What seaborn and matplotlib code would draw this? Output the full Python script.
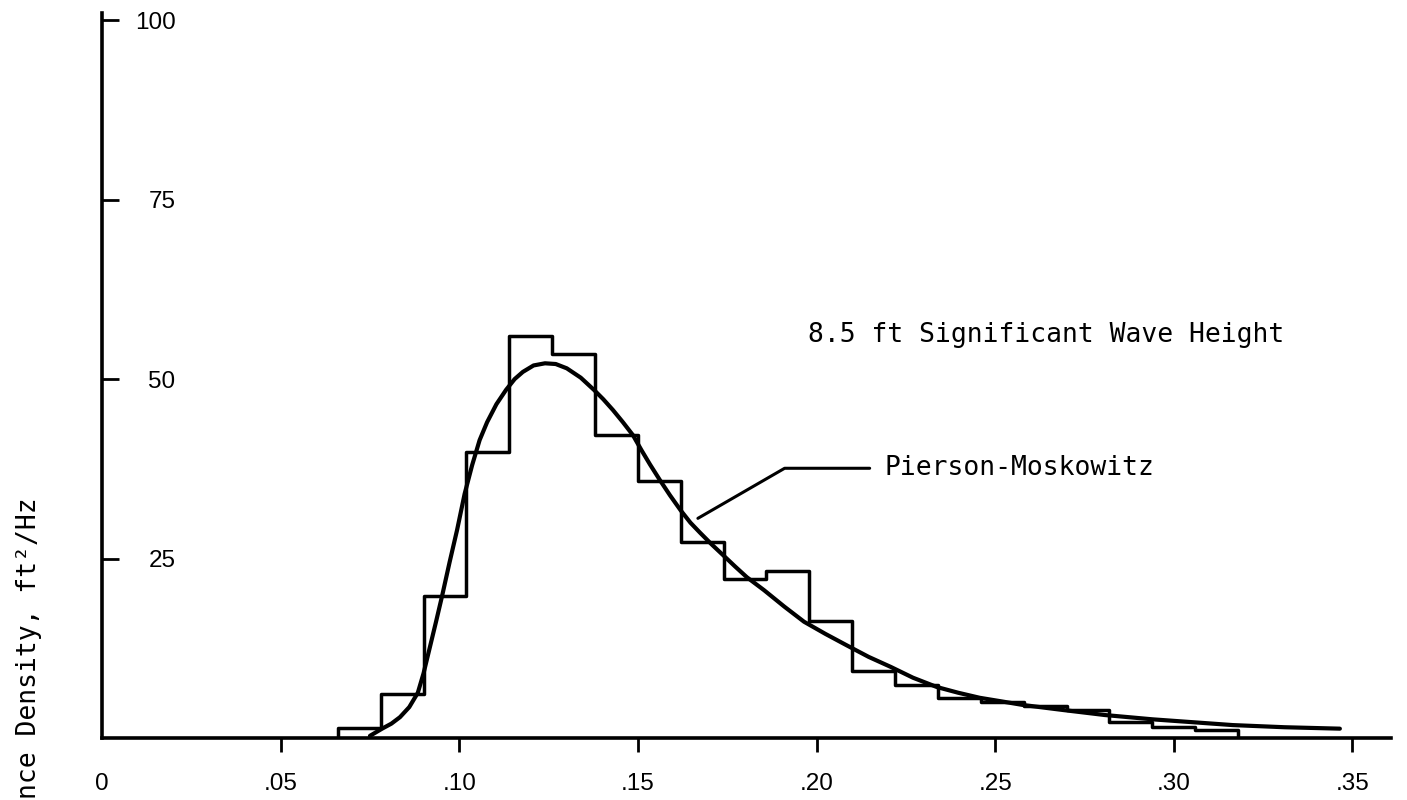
import matplotlib
matplotlib.use("Agg")
import matplotlib.pyplot as plt
import seaborn as sns

# measured spectrum: step heights per frequency band (Hz)
bin_edges = [0.066, 0.078, 0.090, 0.102, 0.114, 0.126, 0.138, 0.150, 0.162,
             0.174, 0.186, 0.198, 0.210, 0.222, 0.234, 0.246, 0.258, 0.270,
             0.282, 0.294, 0.306, 0.318]
bin_heights = [1.4, 6.1, 19.8, 39.8, 56.0, 53.5, 42.2, 35.8, 27.3, 22.1, 23.3,
               16.3, 9.3, 7.4, 5.6, 5.0, 4.5, 3.9, 2.2, 1.5, 1.1]

# Pierson-Moskowitz curve, points
pm_freq = [0.0750, 0.0784, 0.0810, 0.0834, 0.0860, 0.0884, 0.0900, 0.0918,
           0.0935, 0.0952, 0.0973, 0.0994, 0.1015, 0.1036, 0.1057, 0.1078,
           0.1104, 0.1131, 0.1155, 0.1178, 0.1208, 0.1240, 0.1270, 0.1301,
           0.1340, 0.1377, 0.1403, 0.1430, 0.1458, 0.1486, 0.1510, 0.1534,
           0.1562, 0.1590, 0.1620, 0.1647, 0.1674, 0.1706, 0.1738, 0.1772,
           0.1805, 0.1853, 0.1910, 0.1965, 0.2025, 0.2085, 0.2146, 0.2208,
           0.2270, 0.2337, 0.2397, 0.2457, 0.2518, 0.2578, 0.2690, 0.2807,
           0.2941, 0.3053, 0.3165, 0.3310, 0.3465]
pm_density = [0.3, 1.3, 2.0, 2.9, 4.3, 6.3, 9.0, 12.7, 16.2, 19.8, 24.5,
              29.0, 34.0, 38.0, 41.5, 44.0, 46.5, 48.5, 50.0, 51.0, 51.9,
              52.2, 52.1, 51.5, 50.2, 48.5, 47.2, 45.7, 44.0, 42.2, 40.1,
              38.1, 35.9, 33.8, 31.7, 30.0, 28.6, 27.0, 25.5, 23.9, 22.4,
              20.6, 18.3, 16.2, 14.5, 12.9, 11.3, 9.9, 8.4, 7.1, 6.3, 5.6,
              5.1, 4.6, 3.9, 3.2, 2.6, 2.2, 1.8, 1.5, 1.3]

x_ticks = [0, 0.05, 0.10, 0.15, 0.20, 0.25, 0.30, 0.35]
x_labels = ["0", ".05", ".10", ".15", ".20", ".25", ".30", ".35"]
y_ticks = [25, 50, 75, 100]
y_labels = ["25", "50", "75", "100"]

sns.set_theme(style="white")
plt.rcParams["font.family"] = ["DejaVu Sans Mono", "DejaVu Sans"]

fig = plt.figure(figsize=(14.07, 8), dpi=100)
ax = fig.add_axes([0.0725, 0.0775, 0.9161, 0.90625])

# step outline, closed down to zero at both ends
step_x = [bin_edges[0]] + bin_edges
step_y = [0] + bin_heights + [0]
sns.lineplot(x=step_x, y=step_y, estimator=None, sort=False, ax=ax,
             color="black", linewidth=2.5, drawstyle="steps-post")

sns.lineplot(x=pm_freq, y=pm_density, estimator=None, sort=False, ax=ax,
             color="black", linewidth=3.0)

ax.set_xlim(0, 0.3608)
ax.set_ylim(0, 101)

for side in ["top", "right"]:
    ax.spines[side].set_visible(False)
for side in ["left", "bottom"]:
    ax.spines[side].set_color("black")
    ax.spines[side].set_linewidth(2.6)

ax.set_xticks(x_ticks)
ax.set_xticklabels(x_labels, family="Liberation Sans", fontsize=17.5)
ax.set_yticks(y_ticks)
ax.set_yticklabels(y_labels, family="Liberation Sans", fontsize=17.5)
ax.tick_params(axis="x", direction="out", length=10, width=2, colors="black",
               pad=15, bottom=True)
ax.tick_params(axis="y", direction="in", length=12, width=2, colors="black",
               pad=-53, left=True)
ax.xaxis.get_major_ticks()[0].tick1line.set_visible(False)

ax.text(0.1976, 55.2, "8.5 ft Significant Wave Height", fontsize=19,
        ha="left", va="baseline", color="black")
ax.annotate("Pierson-Moskowitz", xy=(0.1668, 30.6), xytext=(0.2191, 36.6),
            fontsize=19, ha="left", va="baseline", color="black",
            arrowprops=dict(arrowstyle="-", color="black", linewidth=2.2,
                            connectionstyle="angle,angleA=0,angleB=30,rad=0",
                            relpos=(0, 0.5), shrinkA=8.5, shrinkB=0))

fig.text(29 / 1407, 1 - 497 / 800, "nce Density, ft\u00b2/Hz", rotation=90,
         ha="center", va="top", fontsize=19, color="black")

fig.savefig("out.png", dpi=100, facecolor="white")
plt.close(fig)
